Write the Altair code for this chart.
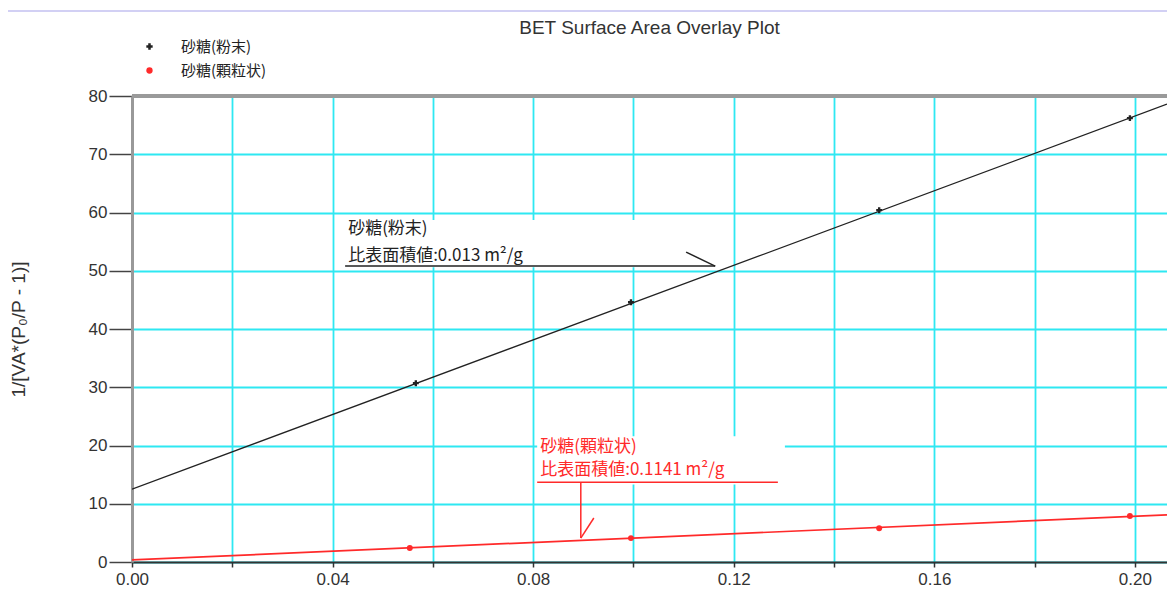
import altair as alt
import pandas as pd

# ---- data ----
series_names = ["砂糖(粉末)", "砂糖(顆粒状)"]
series_colors = ["#222222", "#ff2a2a"]
series_shapes = ["cross", "circle"]

pt_series = ["砂糖(粉末)"] * 4 + ["砂糖(顆粒状)"] * 4
pt_x = [0.0566, 0.0995, 0.149, 0.199, 0.0554, 0.0995, 0.149, 0.199]
pt_y = [30.7, 44.6, 60.4, 76.2, 2.4, 4.1, 5.8, 7.9]

# fitted BET lines (end points)
line_series = ["砂糖(粉末)", "砂糖(粉末)", "砂糖(顆粒状)", "砂糖(顆粒状)"]
line_x = [0.0, 0.2064, 0.0, 0.2064]
line_y = [12.5, 78.6, 0.35, 8.1]

x_ticks = [0.0, 0.02, 0.04, 0.06, 0.08, 0.10, 0.12, 0.14, 0.16, 0.18, 0.20]
y_ticks = [0, 10, 20, 30, 40, 50, 60, 70, 80]

# annotations
ann_text = ["砂糖(粉末)", "比表面積値:0.013 m²/g", "砂糖(顆粒状)", "比表面積値:0.1141 m²/g"]
ann_x = [0.0431, 0.0431, 0.0814, 0.0814]
ann_y = [57.1, 52.6, 19.8, 15.8]
ann_color = ["#222222", "#222222", "#ff2a2a", "#ff2a2a"]

box_x = [0.0421, 0.0808]
box_x2 = [0.1143, 0.1302]
box_y = [58.7, 21.6]
box_y2 = [50.6, 13.3]

seg_x = [0.0425, 0.1105, 0.0808, 0.0895, 0.0921]
seg_x2 = [0.1163, 0.1163, 0.1288, 0.0895, 0.0895]
seg_y = [50.8, 53.2, 13.7, 13.7, 7.55]
seg_y2 = [50.8, 50.8, 13.7, 4.1, 4.1]
seg_color = ["#222222", "#222222", "#ff2a2a", "#ff2a2a", "#ff2a2a"]

X_DOMAIN = [0, 0.2064]
Y_DOMAIN = [0, 80]

pts = pd.DataFrame({"series": pt_series, "x": pt_x, "y": pt_y})
lines = pd.DataFrame({"series": line_series, "x": line_x, "y": line_y})
ann = pd.DataFrame({"text": ann_text, "x": ann_x, "y": ann_y, "c": ann_color})
boxes = pd.DataFrame({"x": box_x, "x2": box_x2, "y": box_y, "y2": box_y2})
segs = pd.DataFrame({"x": seg_x, "x2": seg_x2, "y": seg_y, "y2": seg_y2, "c": seg_color})

xs = alt.Scale(domain=X_DOMAIN, nice=False, zero=False)
ys = alt.Scale(domain=Y_DOMAIN, nice=False)

grid_color = "#2ee8f2"
xaxis = alt.Axis(
    values=x_ticks,
    labelExpr="round(datum.value*100) % 4 == 0 ? format(datum.value, '.2f') : ''",
    title=None, grid=True, gridColor=grid_color, gridWidth=1.8, gridOpacity=1,
    tickSize=5, tickColor="#333333", tickWidth=1.5,
    domainColor="#333333", domainWidth=2,
    labelFont="Liberation Sans", labelFontSize=17, labelColor="#333333",
    labelPadding=4, labelFlush=False,
)
yaxis = alt.Axis(
    values=y_ticks, format="d",
    title="1/[VA*(P₀/P - 1)]", titleFont="Liberation Sans", titleFontSize=19,
    titleFontWeight="normal", titleColor="#333333",
    titleX=-114, titleBaseline="middle",
    grid=True, gridColor=grid_color, gridWidth=1.8, gridOpacity=1,
    tickSize=23, tickColor="#444444", tickWidth=1.5,
    domainColor="#999999", domainWidth=3,
    labelFont="Liberation Sans", labelFontSize=17, labelColor="#333333",
    labelPadding=2, labelFlush=False,
)

base_x = alt.X("x:Q", scale=xs, axis=xaxis)
base_y = alt.Y("y:Q", scale=ys, axis=yaxis)

black_line = alt.Chart(lines).transform_filter(
    alt.datum.series == series_names[0]
).mark_line(color=series_colors[0], strokeWidth=1.3, clip=True).encode(
    x=base_x, y=base_y
)
red_line = alt.Chart(lines).transform_filter(
    alt.datum.series == series_names[1]
).mark_line(color=series_colors[1], strokeWidth=1.7, clip=True).encode(
    x=alt.X("x:Q", scale=xs), y=alt.Y("y:Q", scale=ys)
)

points = alt.Chart(pts).mark_point(filled=True, opacity=1).encode(
    x=alt.X("x:Q", scale=xs),
    y=alt.Y("y:Q", scale=ys),
    color=alt.Color("series:N", scale=alt.Scale(domain=series_names, range=series_colors),
                    legend=alt.Legend(title=None, orient="none", legendX=10, legendY=-57,
                                      labelFont="Noto Sans CJK JP", labelFontSize=15,
                                      labelColor="#222222", labelOffset=24,
                                      symbolSize=40, rowPadding=8)),
    shape=alt.Shape("series:N", scale=alt.Scale(domain=series_names, range=series_shapes)),
    size=alt.value(35),
)

box_layer = alt.Chart(boxes).mark_rect(color="white").encode(
    x=alt.X("x:Q", scale=xs), x2="x2:Q", y=alt.Y("y:Q", scale=ys), y2="y2:Q"
)

text_layer = alt.Chart(ann).mark_text(
    align="left", baseline="middle", font="Noto Sans CJK JP", fontSize=17
).encode(
    x=alt.X("x:Q", scale=xs), y=alt.Y("y:Q", scale=ys), text="text:N",
    color=alt.Color("c:N", scale=None),
)

seg_layer = alt.Chart(segs).mark_rule(strokeWidth=1.5).encode(
    x=alt.X("x:Q", scale=xs), x2="x2:Q", y=alt.Y("y:Q", scale=ys), y2="y2:Q",
    color=alt.Color("c:N", scale=None),
)

top_border = alt.Chart(pts).mark_rule(color="#9a9a9a", strokeWidth=3).encode(
    x=alt.value(0), x2=alt.value(1035), y=alt.value(0)
)
page_line = alt.Chart(pts).mark_rule(color="#d2d0f4", strokeWidth=2).encode(
    x=alt.value(-124), x2=alt.value(1035), y=alt.value(-85)
)

chart = alt.layer(
    black_line, red_line, box_layer, text_layer, seg_layer, points, top_border, page_line
).properties(
    width=1035, height=466,
    autosize=alt.AutoSizeParams(type="none"),
    padding={"left": 124, "top": 88, "right": 0, "bottom": 25},
    title=alt.TitleParams("BET Surface Area Overlay Plot", font="Liberation Sans",
                          fontSize=19, fontWeight="normal", color="#333333",
                          anchor="middle", offset=-28),
).configure_view(stroke=None).configure(background="white")

chart.save("out.html", embed_options={"renderer": "svg", "actions": False})
